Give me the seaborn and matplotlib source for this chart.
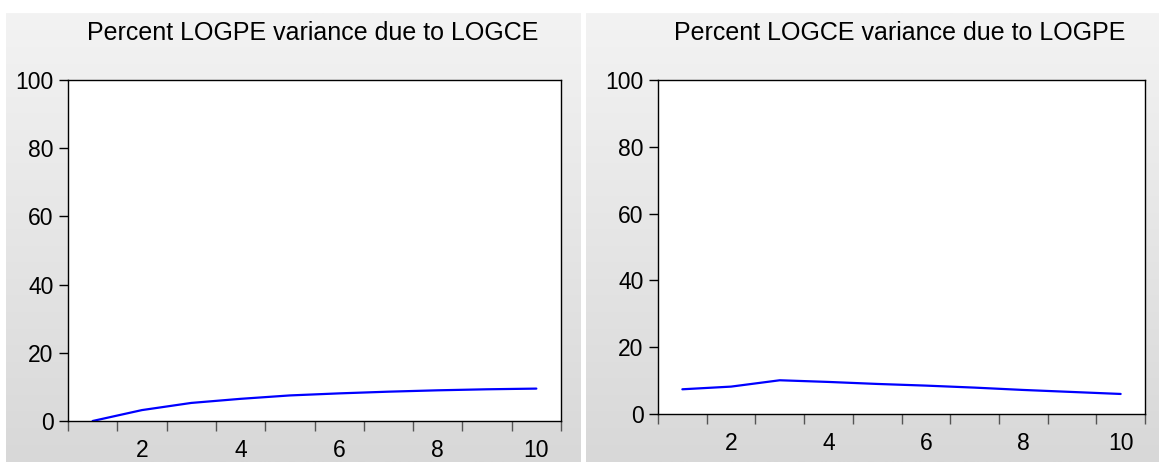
import numpy as np
import pandas as pd
import seaborn as sns
import matplotlib.pyplot as plt
from matplotlib.ticker import FixedLocator
from matplotlib.colors import LinearSegmentedColormap

# Variance decomposition: forecast horizon and percent shares
periods = [1, 2, 3, 4, 5, 6, 7, 8, 9, 10]
logpe_due_to_logce = [0.0, 3.2, 5.3, 6.5, 7.5, 8.1, 8.6, 9.0, 9.3, 9.5]
logce_due_to_logpe = [7.4, 8.2, 10.1, 9.6, 9.0, 8.5, 7.9, 7.2, 6.6, 6.0]
titles = ["Percent LOGPE variance due to LOGCE",
          "Percent LOGCE variance due to LOGPE"]
y_ticks = [0, 20, 40, 60, 80, 100]
x_labels = [2, 4, 6, 8, 10]

sns.set_theme(style="white")
plt.rcParams["font.family"] = ["Liberation Sans", "DejaVu Sans"]

W, H = 1159, 462
fig = plt.figure(figsize=(W / 100, H / 100), dpi=100)
fig.patch.set_facecolor("white")

# gradient panel backgrounds (pixel coords -> figure fraction)
grad = np.linspace(0, 1, 256).reshape(-1, 1)
cmap = LinearSegmentedColormap.from_list("panel", ["#f3f3f3", "#d8d8d8"])
for (x0, x1) in [(6, 581), (586, 1159)]:
    bg = fig.add_axes([x0 / W, 0, (x1 - x0) / W, (H - 13) / H], zorder=0)
    bg.imshow(grad, aspect="auto", cmap=cmap, extent=[0, 1, 0, 1])
    bg.set_axis_off()

panels = [
    dict(rect=(68, 80, 561, 421), values=logpe_due_to_logce, title=titles[0], tx=313),
    dict(rect=(658, 80, 1145, 414), values=logce_due_to_logpe, title=titles[1], tx=900),
]

for p in panels:
    l, t, r, b = p["rect"]
    ax = fig.add_axes([l / W, 1 - b / H, (r - l) / W, (b - t) / H], zorder=2)
    ax.set_facecolor("white")
    df = pd.DataFrame({"period": periods, "value": p["values"]})
    sns.lineplot(data=df, x="period", y="value", ax=ax, color="#0000ff", linewidth=1.6)
    ax.set_xlim(0.5, 10.5)
    ax.set_ylim(0, 100)
    ax.xaxis.set_major_locator(FixedLocator(x_labels))
    ax.xaxis.set_minor_locator(FixedLocator(np.arange(0.5, 10.6, 1.0)))
    ax.yaxis.set_major_locator(FixedLocator(y_ticks))
    ax.tick_params(axis="x", which="major", length=0, pad=13, labelsize=16.5, colors="black")
    ax.tick_params(axis="x", which="minor", length=7.5, width=1, direction="out",
                   bottom=True, color="#555555")
    ax.tick_params(axis="y", which="major", length=6.5, width=1, direction="out",
                   left=True, pad=4, labelsize=16.5, colors="black")
    ax.set_xlabel("")
    ax.set_ylabel("")
    for s in ax.spines.values():
        s.set_visible(True)
        s.set_color("black")
        s.set_linewidth(1.0)
    fig.text(p["tx"] / W, 1 - 33 / H, p["title"], ha="center", va="center",
             fontsize=18, color="black")

fig.savefig("out.png", dpi=100)
